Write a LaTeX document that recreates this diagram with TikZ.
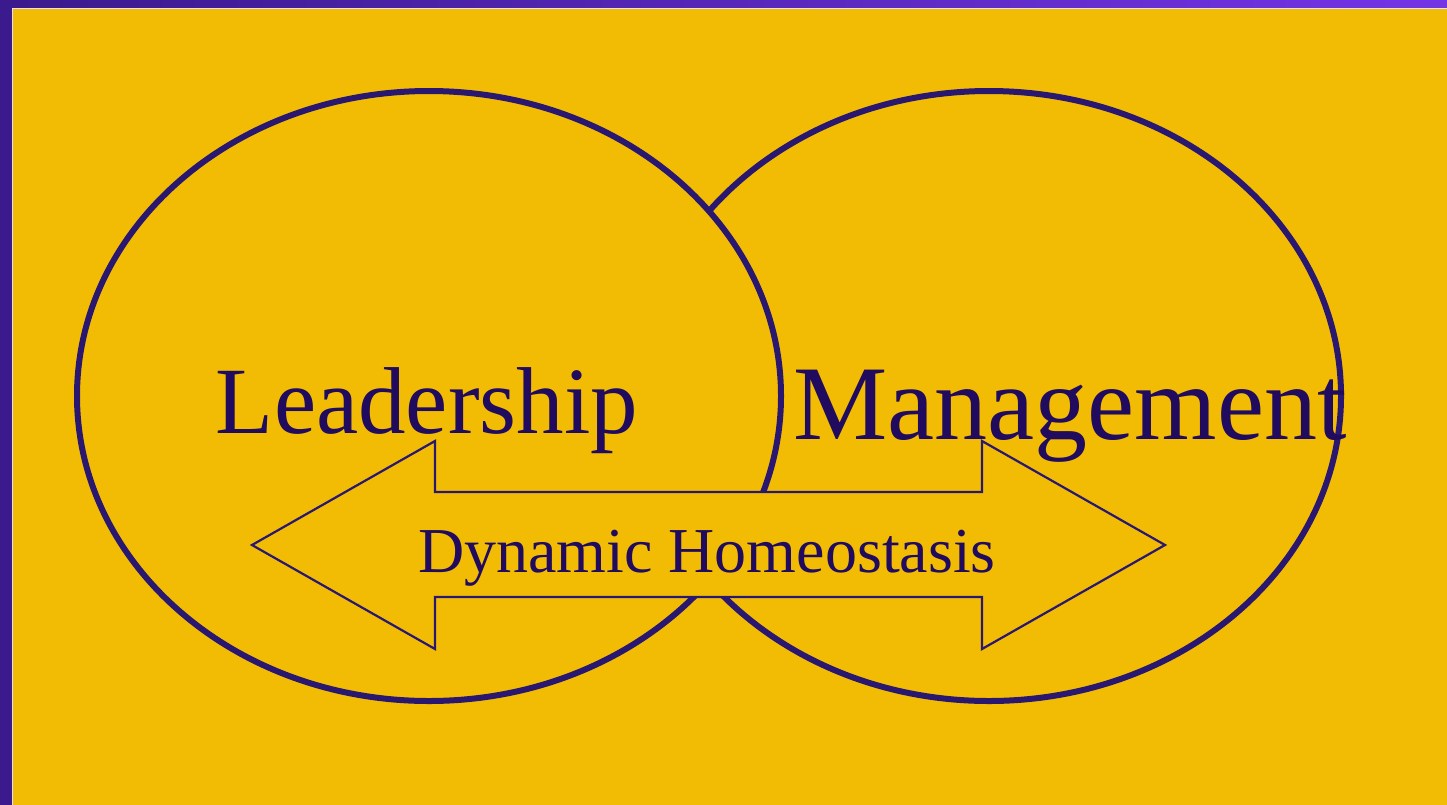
\documentclass[tikz,border=0pt]{standalone}
\usepackage{fontspec}
\setmainfont{Liberation Serif}
\usetikzlibrary{shapes.geometric}
\definecolor{bgyellow}{HTML}{F2BC05}
\definecolor{framedark}{HTML}{3A1A8C}
\definecolor{framebright}{HTML}{7434E6}
\definecolor{lineviolet}{HTML}{2A1870}
\definecolor{textviolet}{HTML}{200B5E}
\definecolor{edgewhite}{HTML}{E6DEF2}
\tikzset{
  ring/.style={ellipse, draw=lineviolet, fill=bgyellow, line width=6pt, inner sep=0pt,
    minimum width=704pt, minimum height=610pt},
  bigword/.style={anchor=base, inner sep=0pt, text=textviolet},
  dblarrow/.style={draw=lineviolet, fill=bgyellow, line width=2.2pt, line join=miter}
}
\begin{document}
\begin{tikzpicture}[x=1pt,y=-1pt]
\useasboundingbox (0,0) rectangle (1447,804);
% frame
\shade[left color=framedark, right color=framebright] (0,0) rectangle (1447,804);
\draw[edgewhite, fill=bgyellow, line width=1.6pt] (12.5,8.5) rectangle (1460,820);
% circles
\node[ring] (mgmt) at (989,396) {};
\node[ring] (lead) at (429,396) {};
% words
\node[bigword, font=\fontsize{95}{100}\selectfont] (leadtext) at (427,433) {Leadership};
\node[bigword, font=\fontsize{106}{110}\selectfont] (mgmttext) at (1070,439) {Management};
% double arrow
\draw[dblarrow] (252,545) -- (435,441) -- (435,492) -- (982,492) -- (982,441)
  -- (1165,545) -- (982,649) -- (982,597) -- (435,597) -- (435,649) -- cycle;
\node[bigword, font=\fontsize{64}{70}\selectfont] (dyn) at (707,572) {Dynamic Homeostasis};
\end{tikzpicture}
\end{document}
